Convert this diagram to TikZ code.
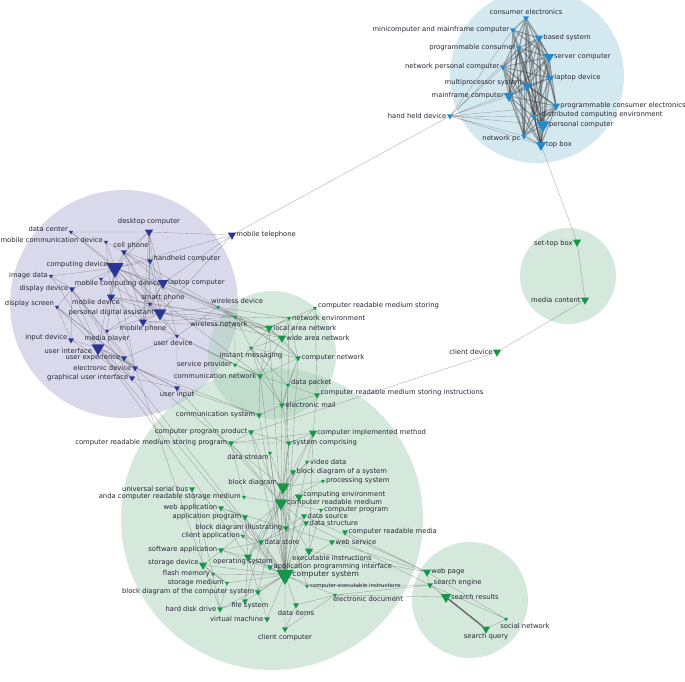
\documentclass[tikz,border=0pt]{standalone}
\usepackage{fontspec}
\setmainfont{DejaVu Sans}
\usepackage{xcolor}
\usepackage{tikz}
\usetikzlibrary{shapes.geometric}
\definecolor{nodeblue}{HTML}{2289CB}
\definecolor{nodepurple}{HTML}{2B3594}
\definecolor{nodegreen}{HTML}{17964A}
\definecolor{circblue}{HTML}{A9D2E2}
\definecolor{circpurple}{HTML}{B4B4D7}
\definecolor{circgreen}{HTML}{ABD1B9}
\definecolor{labelgray}{HTML}{262634}
\definecolor{edgegray}{HTML}{707070}
\pgfdeclarelayer{circ}
\pgfdeclarelayer{bg}
\pgfsetlayers{circ,bg,main}

\begin{document}
\begin{tikzpicture}[x=1pt,y=-1pt,
    tri/.style={regular polygon,regular polygon sides=3,shape border rotate=180,inner sep=0pt,outer sep=0pt},
    bt/.style={tri,fill=nodeblue},
    pt/.style={tri,fill=nodepurple},
    gt/.style={tri,fill=nodegreen},
    t1/.style={minimum size=5pt},
    t2/.style={minimum size=7pt},
    t3/.style={minimum size=9.5pt},
    t4/.style={minimum size=12pt},
    t5/.style={minimum size=15pt},
    t6/.style={minimum size=20pt},
    every label/.style={font=\fontsize{6.8}{8}\selectfont,text=labelgray,inner sep=0.5pt},
    label distance=1pt,
    link/.style={edgegray,line width=0.35pt,draw opacity=0.6},
    core/.style={black!75,line width=1.1pt,draw opacity=0.45},
    cluster/.style={fill opacity=0.5,draw=none}]
  \useasboundingbox (0,0) rectangle (685,681);

  % clusters
  \begin{pgfonlayer}{circ}
    \fill[cluster,circblue] (537,76) circle (87);
    \fill[cluster,circpurple] (124,304) circle (114);
    \fill[cluster,circgreen] (272,519) circle (151);
    \fill[cluster,circgreen] (272,355) circle (64);
    \fill[cluster,circgreen] (568,276) circle (48);
    \fill[cluster,circgreen] (470,600) circle (58);
  \end{pgfonlayer}

  % hardware cluster
  \node[bt,t2,label=above:consumer electronics] (ce) at (526,18) {};
  \node[bt,t2,label=left:minicomputer and mainframe computer] (mmc) at (513,30) {};
  \node[bt,t3,label=right:based system] (bs) at (539,38) {};
  \node[bt,t2,label=left:programmable consumer] (pcon) at (519,48) {};
  \node[bt,t4,label=right:server computer] (sc) at (549,57) {};
  \node[bt,t2,label=left:network personal computer] (npc) at (503,67) {};
  \node[bt,t3,label=right:laptop device] (ld) at (550,78) {};
  \node[bt,t4,label={[yshift=3pt]left:multiprocessor system}] (mps) at (527,86) {};
  \node[bt,t4,label=left:mainframe computer] (mfc) at (509,96) {};
  \node[bt,t3,label=right:programmable consumer electronics] (pce) at (556,106) {};
  \node[bt,t2,label={[xshift=4pt,yshift=2pt]right:distributed computing environment}] (dce) at (534,117) {};
  \node[bt,t2,label=left:hand held device] (hhd) at (450,116) {};
  \node[bt,t5,label=right:personal computer] (pc) at (543,125) {};
  \node[bt,t2,label={[yshift=-3pt]left:network pc}] (netpc) at (524,136) {};
  \node[bt,t4,label=right:top box] (tb) at (541,145) {};

  % device cluster
  \node[pt,t3,label={[yshift=3pt]above:desktop computer}] (dtc) at (149,232) {};
  \node[pt,t1,label={[yshift=3pt]left:data center}] (dcen) at (71,232) {};
  \node[pt,t1,label={[yshift=2pt]left:mobile communication device}] (mcd) at (106,242) {};
  \node[pt,t2,label={[xshift=7pt]above:cell phone}] (cph) at (124,252) {};
  \node[pt,t2,label={[yshift=2pt]right:handheld computer}] (hhc) at (150,261) {};
  \node[pt,t3,label=right:mobile telephone] (mtel) at (232,235) {};
  \node[pt,t6,label={[yshift=3pt]left:computing device}] (cdev) at (115,268) {};
  \node[pt,t1,label=left:image data] (imgd) at (51,276) {};
  \node[pt,t1,label={[xshift=17pt,yshift=3pt]below:mobile computing device}] (mcomp) at (101,279) {};
  \node[pt,t4,label=right:laptop computer] (lapc) at (163,283) {};
  \node[pt,t2,label=left:display device] (dspd) at (72,289) {};
  \node[pt,t1,label={[xshift=13pt]above:smart phone}] (sphone) at (150,304) {};
  \node[pt,t3,label={[xshift=-15pt,yshift=4pt]below:mobile device}] (mdev) at (111,297) {};
  \node[pt,t1,label={[yshift=3pt]left:display screen}] (dscr) at (57,307) {};
  \node[pt,t5,label=left:personal digital assistant] (pda) at (160,313) {};
  \node[pt,t3,label={[yshift=3pt]below:mobile phone}] (mphone) at (143,322) {};
  \node[pt,t1,label=below:media player] (mplay) at (107,331) {};
  \node[pt,t2,label={[yshift=2pt]left:input device}] (inpd) at (71,340) {};
  \node[pt,t1,label={[xshift=-4pt]below:user device}] (udev) at (177,336) {};
  \node[pt,t5,label={[yshift=-3pt]left:user interface}] (ui) at (98,348) {};
  \node[pt,t2,label=left:user experience] (ux) at (124,358) {};
  \node[pt,t2,label=left:electronic device] (edev) at (135,368) {};
  \node[pt,t2,label=left:graphical user interface] (gui) at (132,378) {};
  \node[pt,t2,label={[yshift=2pt]below:user input}] (uinp) at (177,388) {};

  % network cluster
  \node[gt,t1,label={[xshift=19pt]above:wireless device}] (wdev) at (218,307) {};
  \node[gt,t1,label={[xshift=-16pt]below:wireless network}] (wnet) at (235,317) {};
  \node[gt,t1,label={[yshift=2pt]right:computer readable medium storing}] (crms) at (315,308) {};
  \node[gt,t1,label=right:network environment] (nenv) at (289,318) {};
  \node[gt,t3,label=right:local area network] (lan) at (269,328) {};
  \node[gt,t3,label=right:wide area network] (wan) at (282,338) {};
  \node[gt,t1,label=below:instant messaging] (imsg) at (251,348) {};
  \node[gt,t2,label=right:computer network] (cnet) at (298,358) {};
  \node[gt,t1,label=left:service provider] (sprov) at (235,365) {};
  \node[gt,t2,label=left:communication network] (cnw) at (260,376) {};
  \node[gt,t1,label={[yshift=2pt]right:data packet}] (dpack) at (288,385) {};
  \node[gt,t2,label={[yshift=2pt]right:computer readable medium storing instructions}] (crmsi) at (317,395) {};
  \node[gt,t2,label=right:electronic mail] (email) at (282,405) {};
  \node[gt,t2,label=left:communication system] (csys) at (259,415) {};
  \node[gt,t3,label=left:client device] (cldev) at (497,352) {};

  % system cluster
  \node[gt,t2,label=left:computer program product] (cpp) at (251,432) {};
  \node[gt,t2,label=left:computer readable medium storing program] (crmsp) at (231,443) {};
  \node[gt,t3,label=right:computer implemented method] (cim) at (313,433) {};
  \node[gt,t2,label=right:system comprising] (scomp) at (289,443) {};
  \node[gt,t1,label={[xshift=-22pt,yshift=3pt]below:data stream}] (dstream) at (270,453) {};
  \node[gt,t1,label=right:video data] (vdata) at (307,462) {};
  \node[gt,t2,label=right:block diagram of a system] (bdas) at (293,472) {};
  \node[gt,t1,label=right:processing system] (psys) at (323,481) {};
  \node[gt,t5,label={[yshift=4pt]left:block diagram}] (bd) at (283,487) {};
  \node[gt,t2,label=left:universal serial bus] (usb) at (192,489) {};
  \node[gt,t3,label={[yshift=2pt]right:computing environment}] (cenv) at (299,497) {};
  \node[gt,t1,label=left:anda computer readable storage medium] (anda) at (244,497) {};
  \node[gt,t5,label=right:computer readable medium] (crm) at (281,503) {};
  \node[gt,t2,label=left:web application] (webapp) at (221,508) {};
  \node[gt,t1,label=right:computer program] (cprog) at (321,510) {};
  \node[gt,t2,label=right:data source] (dsrc) at (304,516) {};
  \node[gt,t2,label=left:application program] (aprog) at (245,517) {};
  \node[gt,t2,label=right:data structure] (dstruct) at (306,523) {};
  \node[gt,t2,label=left:block diagram illustrating] (bdis) at (286,528) {};
  \node[gt,t2,label=right:computer readable media] (crmedia) at (345,532) {};
  \node[gt,t1,label=left:client application] (capp) at (243,536) {};
  \node[gt,t2,label=right:data store] (dstore) at (261,542) {};
  \node[gt,t2,label=right:web service] (wserv) at (332,542) {};
  \node[gt,t2,label=left:software application] (sapp) at (221,550) {};
  \node[gt,t3,label={[xshift=23pt,yshift=2pt]below:executable instructions}] (exin) at (309,551) {};
  \node[gt,t3,label={[xshift=-5pt,yshift=5pt]below:operating system}] (osys) at (248,557) {};
  \node[gt,t3,label={[yshift=2pt]left:storage device}] (stdev) at (203,565) {};
  \node[gt,t2,label=right:application programming interface] (api) at (270,567) {};
  \node[gt,t6,label={[font=\fontsize{7.6}{9}\selectfont]right:computer system}] (cs) at (285,575) {};
  \node[gt,t1,label=left:flash memory] (flash) at (213,574) {};
  \node[gt,t1,label=left:storage medium] (stmed) at (227,583) {};
  \node[gt,t1,label={[font=\fontsize{5.4}{6}\selectfont]right:computer-executable instructions}] (cei) at (307,586) {};
  \node[gt,t2,label=left:block diagram of the computer system] (bdcs) at (258,592) {};
  \node[gt,t1,label={[xshift=33pt,yshift=3pt]below:electronic document}] (edoc) at (335,595) {};
  \node[gt,t2,label={[xshift=5pt,yshift=4pt]below:file system}] (fsys) at (245,601) {};
  \node[gt,t2,label=below:data items] (ditems) at (296,605) {};
  \node[gt,t2,label=left:hard disk drive] (hdd) at (220,609) {};
  \node[gt,t2,label=left:virtual machine] (vm) at (267,619) {};
  \node[gt,t2,label=below:client computer] (ccomp) at (285,629) {};

  % search cluster
  \node[gt,t3,label=right:web page] (wpage) at (427,572) {};
  \node[gt,t2,label={[yshift=2pt]right:search engine}] (seng) at (430,585) {};
  \node[gt,t4,label=right:search results] (sres) at (446,597) {};
  \node[gt,t1,label={[xshift=19pt]below:social network}] (snet) at (506,619) {};
  \node[gt,t3,label={[yshift=2pt]below:search query}] (squery) at (486,629) {};

  % media cluster
  \node[gt,t3,label={[yshift=-2pt]left:set-top box}] (stb) at (577,242) {};
  \node[gt,t3,label=left:media content] (mcont) at (585,300) {};

  \begin{pgfonlayer}{bg}
    % hardware links
    \draw[core] (ce) -- (mmc) (ce) -- (bs) (ce) -- (pcon) (ce) -- (sc) (ce) -- (mps) (ce) -- (mfc) (ce) -- (ld) (ce) -- (pc) (ce) -- (tb) (ce) -- (dce) (ce) -- (netpc) (ce) -- (npc);
    \draw[core] (mmc) -- (pcon) (mmc) -- (bs) (mmc) -- (mps) (mmc) -- (mfc) (mmc) -- (sc) (mmc) -- (pc) (mmc) -- (tb) (mmc) -- (dce) (mmc) -- (netpc);
    \draw[core] (bs) -- (pcon) (bs) -- (sc) (bs) -- (npc) (bs) -- (ld) (bs) -- (mps) (bs) -- (mfc) (bs) -- (pce) (bs) -- (pc) (bs) -- (tb) (bs) -- (dce);
    \draw[core] (pcon) -- (sc) (pcon) -- (npc) (pcon) -- (mps) (pcon) -- (mfc) (pcon) -- (pc) (pcon) -- (tb) (pcon) -- (netpc) (pcon) -- (ld);
    \draw[core] (sc) -- (npc) (sc) -- (ld) (sc) -- (mps) (sc) -- (mfc) (sc) -- (pce) (sc) -- (dce) (sc) -- (pc) (sc) -- (tb) (sc) -- (netpc);
    \draw[core] (npc) -- (ld) (npc) -- (mps) (npc) -- (mfc) (npc) -- (pc) (npc) -- (tb) (npc) -- (netpc) (npc) -- (pce);
    \draw[core] (ld) -- (mps) (ld) -- (mfc) (ld) -- (pce) (ld) -- (dce) (ld) -- (pc) (ld) -- (tb);
    \draw[core] (mps) -- (mfc) (mps) -- (pce) (mps) -- (dce) (mps) -- (pc) (mps) -- (tb) (mps) -- (netpc);
    \draw[core] (mfc) -- (pce) (mfc) -- (dce) (mfc) -- (pc) (mfc) -- (tb) (mfc) -- (netpc);
    \draw[core] (pce) -- (dce) (pce) -- (pc) (pce) -- (tb) (pce) -- (netpc) (dce) -- (pc) (dce) -- (tb) (dce) -- (netpc) (pc) -- (tb) (pc) -- (netpc) (netpc) -- (tb);
    \draw[link] (hhd) -- (mmc) (hhd) -- (npc) (hhd) -- (mfc) (hhd) -- (mps) (hhd) -- (pce) (hhd) -- (dce) (hhd) -- (pc) (hhd) -- (tb) (hhd) -- (netpc) (hhd) -- (pcon);
    % long links
    \draw[link] (hhd) -- (mtel) (tb) -- (stb) (stb) -- (mcont) (mcont) -- (cldev) (cldev) -- (cpp);
    % device links
    \draw[link] (cdev) -- (dtc) (cdev) -- (cph) (cdev) -- (hhc) (cdev) -- (lapc) (cdev) -- (sphone) (cdev) -- (pda) (cdev) -- (mphone) (cdev) -- (mdev) (cdev) -- (udev) (cdev) -- (mcd) (cdev) -- (wdev) (cdev) -- (wnet) (cdev) -- (mcomp) (cdev) -- (dspd) (cdev) -- (ui) (cdev) -- (edev) (cdev) -- (mplay) (cdev) -- (mtel) (cdev) -- (dcen) (cdev) -- (imgd);
    \draw[link] (dtc) -- (lapc) (dtc) -- (cph) (dtc) -- (hhc) (dtc) -- (mtel) (dtc) -- (dcen) (dtc) -- (pda) (dtc) -- (sphone) (dtc) -- (mphone);
    \draw[link] (cph) -- (pda) (cph) -- (sphone) (cph) -- (lapc) (cph) -- (hhc) (cph) -- (mphone) (cph) -- (mdev) (hhc) -- (lapc) (hhc) -- (pda) (hhc) -- (sphone) (hhc) -- (mphone);
    \draw[link] (lapc) -- (pda) (lapc) -- (sphone) (lapc) -- (mphone) (lapc) -- (wdev) (lapc) -- (udev) (lapc) -- (mtel) (lapc) -- (wnet);
    \draw[link] (pda) -- (sphone) (pda) -- (mphone) (pda) -- (mdev) (pda) -- (wdev) (pda) -- (wnet) (pda) -- (lan) (pda) -- (udev) (pda) -- (mplay) (pda) -- (mcomp) (pda) -- (wan);
    \draw[link] (sphone) -- (mphone) (sphone) -- (mdev) (sphone) -- (wnet) (sphone) -- (mplay) (mphone) -- (mdev) (mphone) -- (udev) (mphone) -- (wnet) (mphone) -- (lan);
    \draw[link] (dspd) -- (dscr) (dspd) -- (ui) (dspd) -- (inpd) (dspd) -- (gui) (dspd) -- (edev) (dspd) -- (ux) (dscr) -- (ui) (dscr) -- (inpd) (dscr) -- (edev);
    \draw[link] (ui) -- (ux) (ui) -- (gui) (ui) -- (edev) (ui) -- (inpd) (ui) -- (uinp) (ui) -- (imgd) (ux) -- (edev) (ux) -- (udev) (edev) -- (uinp) (edev) -- (gui) (edev) -- (mdev) (gui) -- (uinp) (gui) -- (inpd);
    \draw[link] (udev) -- (uinp) (udev) -- (wdev) (udev) -- (sprov) (udev) -- (cnw) (mcd) -- (mdev) (mcd) -- (wdev) (imgd) -- (dspd) (mtel) -- (pda);
    % cross links
    \draw[link] (ui) -- (cs) (ui) -- (osys) (gui) -- (dstore) (uinp) -- (crm) (uinp) -- (csys) (edev) -- (csys) (edev) -- (stdev) (dscr) -- (bd) (mdev) -- (wnet) (dcen) -- (cnw);
    % network links
    \draw[link] (wdev) -- (wnet) (wdev) -- (lan) (wdev) -- (wan) (wdev) -- (nenv) (wdev) -- (cnet) (wnet) -- (lan) (wnet) -- (wan) (wnet) -- (cnet) (wnet) -- (imsg) (wnet) -- (nenv) (wnet) -- (sprov);
    \draw[link] (lan) -- (wan) (lan) -- (nenv) (lan) -- (cnet) (lan) -- (crms) (lan) -- (imsg) (lan) -- (cnw) (wan) -- (cnet) (wan) -- (nenv) (wan) -- (crms) (wan) -- (imsg) (wan) -- (cnw);
    \draw[link] (cnet) -- (nenv) (cnet) -- (imsg) (cnet) -- (dpack) (cnet) -- (email) (cnet) -- (cnw) (imsg) -- (sprov) (imsg) -- (cnw) (imsg) -- (email) (imsg) -- (dpack) (sprov) -- (cnw);
    \draw[link] (cnw) -- (csys) (cnw) -- (email) (cnw) -- (dpack) (dpack) -- (email) (dpack) -- (crmsi) (email) -- (crmsi) (crmsi) -- (cim) (csys) -- (email) (crms) -- (crmsi);
    \draw[link] (csys) -- (cs) (cnw) -- (cs) (nenv) -- (cs) (lan) -- (cs) (cnet) -- (cs) (email) -- (scomp) (dpack) -- (bd) (wan) -- (crm);
    % system links
    \draw[link] (cs) -- (bd) (cs) -- (crm) (cs) -- (osys) (cs) -- (dstore) (cs) -- (api) (cs) -- (exin) (cs) -- (stdev) (cs) -- (stmed) (cs) -- (fsys) (cs) -- (vm) (cs) -- (ditems) (cs) -- (ccomp) (cs) -- (cenv) (cs) -- (dsrc) (cs) -- (dstruct) (cs) -- (cpp);
    \draw[link] (cs) -- (scomp) (cs) -- (cim) (cs) -- (bdas) (cs) -- (sapp) (cs) -- (aprog) (cs) -- (webapp) (cs) -- (capp) (cs) -- (cei) (cs) -- (edoc) (cs) -- (wserv) (cs) -- (hdd) (cs) -- (flash) (cs) -- (bdcs) (cs) -- (dstream);
    \draw[link] (crm) -- (bd) (crm) -- (cpp) (crm) -- (crmsp) (crm) -- (cim) (crm) -- (scomp) (crm) -- (exin) (crm) -- (cprog) (crm) -- (dstruct) (crm) -- (osys) (crm) -- (stdev) (crm) -- (dstore) (crm) -- (cenv) (crm) -- (psys) (crm) -- (bdis) (crm) -- (vdata) (crm) -- (anda) (crm) -- (cei);
    \draw[link] (bd) -- (bdas) (bd) -- (bdis) (bd) -- (bdcs) (bd) -- (scomp) (bd) -- (cim) (bd) -- (dstream) (bd) -- (psys) (bd) -- (osys) (bd) -- (dstore) (bd) -- (vdata);
    \draw[link] (dstore) -- (dsrc) (dstore) -- (dstruct) (dstore) -- (capp) (dstore) -- (sapp) (dstore) -- (osys) (dstore) -- (fsys) (stdev) -- (flash) (stdev) -- (hdd) (stdev) -- (stmed) (stdev) -- (usb) (flash) -- (hdd) (flash) -- (stmed) (stmed) -- (hdd) (hdd) -- (fsys);
    \draw[link] (fsys) -- (osys) (vm) -- (osys) (osys) -- (aprog) (osys) -- (sapp) (osys) -- (api) (aprog) -- (webapp) (aprog) -- (api) (webapp) -- (wserv) (usb) -- (flash) (anda) -- (crmsp);
    \draw[link] (cpp) -- (crmsp) (cpp) -- (scomp) (crmsp) -- (cim) (crmsp) -- (scomp) (cim) -- (scomp) (cim) -- (exin) (cprog) -- (exin) (ditems) -- (ccomp) (ccomp) -- (edoc) (edoc) -- (ditems);
    % search links
    \draw[link] (wserv) -- (wpage) (crmedia) -- (wpage) (dsrc) -- (wpage) (dstruct) -- (seng) (cei) -- (seng) (edoc) -- (sres) (edoc) -- (seng) (exin) -- (wpage);
    \draw[link] (wpage) -- (seng) (wpage) -- (snet) (seng) -- (sres) (seng) -- (snet) (seng) -- (squery) (snet) -- (squery);
    \draw[black!65,line width=1.5pt,draw opacity=0.8] (sres) -- (squery);
  \end{pgfonlayer}
\end{tikzpicture}
\end{document}
